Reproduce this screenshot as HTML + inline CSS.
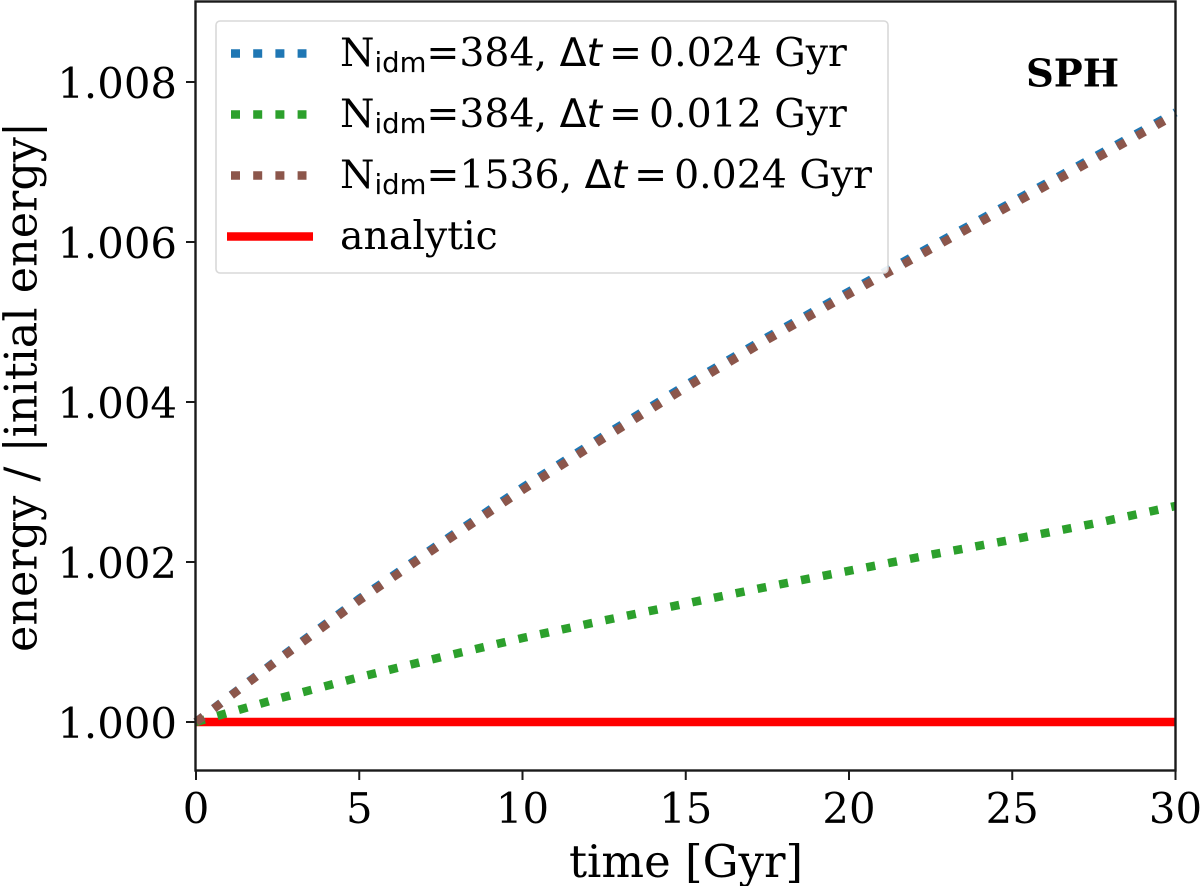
<!DOCTYPE html>
<html>
<head>
<meta charset="utf-8">
<title>Energy conservation chart</title>
<style>
html,body{margin:0;padding:0;background:#fff}
svg{display:block;filter:blur(0.35px)}
text{font-family:"DejaVu Serif","Liberation Serif",serif;fill:#000}
.sub{font-family:"DejaVu Sans","Liberation Sans",sans-serif}
.ital{font-family:"DejaVu Sans","Liberation Sans",sans-serif;font-style:italic}
.sym{font-family:"DejaVu Sans","Liberation Sans",sans-serif}
</style>
</head>
<body>
<svg id="chart" xmlns="http://www.w3.org/2000/svg" width="1200" height="886" viewBox="0 0 1200 886">
  <rect x="196" y="1" width="980" height="770" fill="#fff"/>
  <g id="marks"></g>
  <rect x="195.5" y="1.5" width="980" height="769" fill="none" stroke="#1a1a1a" stroke-width="2.4"/>
  <g id="ticks"></g>
  <text x="686" y="877" font-size="45" text-anchor="middle">time [Gyr]</text>
  <text transform="translate(36.5,387) rotate(-90)" font-size="44.5" text-anchor="middle">energy / |initial energy|</text>
  <text x="1026" y="86.5" font-size="38.5" font-weight="bold">SPH</text>
  <g>
    <rect x="216" y="21" width="672" height="252" rx="4" fill="#fff" fill-opacity="0.9" stroke="#d9d9d9" stroke-width="1.6"/>
    <line x1="231" x2="306.5" y1="53.5" y2="53.5" stroke="#1f77b4" stroke-width="8.5" stroke-dasharray="9 13.2"/>
    <line x1="231" x2="306.5" y1="114.5" y2="114.5" stroke="#2ca02c" stroke-width="8.5" stroke-dasharray="9 13.2"/>
    <line x1="231" x2="306.5" y1="175.5" y2="175.5" stroke="#8c564b" stroke-width="8.5" stroke-dasharray="9 13.2"/>
    <line x1="227" x2="313" y1="236.5" y2="236.5" stroke="#ff0000" stroke-width="8.5"/>
    <text x="340" y="66" font-size="39.4">N<tspan class="sub" font-size="27.5" dy="6">idm</tspan><tspan dy="-6">=384, </tspan><tspan class="sym">Δ</tspan><tspan class="ital">t</tspan><tspan dx="7">=</tspan><tspan dx="7">0.024 Gyr</tspan></text>
    <text x="340" y="127" font-size="39.4">N<tspan class="sub" font-size="27.5" dy="6">idm</tspan><tspan dy="-6">=384, </tspan><tspan class="sym">Δ</tspan><tspan class="ital">t</tspan><tspan dx="7">=</tspan><tspan dx="7">0.012 Gyr</tspan></text>
    <text x="340" y="188" font-size="39.4">N<tspan class="sub" font-size="27.5" dy="6">idm</tspan><tspan dy="-6">=1536, </tspan><tspan class="sym">Δ</tspan><tspan class="ital">t</tspan><tspan dx="7">=</tspan><tspan dx="7">0.024 Gyr</tspan></text>
    <text x="340" y="249" font-size="39.4">analytic</text>
  </g>
</svg>
<script>
var times = [0, 2.5, 5, 7.5, 10, 12.5, 15, 17.5, 20, 22.5, 25, 27.5, 30];
var blueValues = [1.0000, 1.00078, 1.00154, 1.00224, 1.00293, 1.00358, 1.00421, 1.00481, 1.00538, 1.00594, 1.0065, 1.00706, 1.00762];
var greenValues = [1.0000, 1.00029, 1.00056, 1.00081, 1.00105, 1.00127, 1.00148, 1.00169, 1.00189, 1.00209, 1.00228, 1.00248, 1.0027];
var brownValues = [1.0000, 1.00077, 1.00152, 1.00222, 1.0029, 1.00355, 1.00418, 1.00478, 1.00535, 1.00591, 1.00647, 1.00703, 1.00759];
var analyticValues = [1, 1, 1, 1, 1, 1, 1, 1, 1, 1, 1, 1, 1];
var xTicks = [0, 5, 10, 15, 20, 25, 30];
var yTicks = [1.000, 1.002, 1.004, 1.006, 1.008];
var yTickLabels = ["1.000", "1.002", "1.004", "1.006", "1.008"];

function xScale(t) { return 196 + (t - 0) * (1175.5 - 196) / 30; }
function yScale(v) { return 722 - (v - 1) * 640 / 0.008; }
var NS = 'http://www.w3.org/2000/svg';
var marks = document.getElementById('marks');
var tickLayer = document.getElementById('ticks');

function pathFor(values) {
  var d = '';
  for (var i = 0; i < times.length; i++) {
    d += (i ? 'L' : 'M') + xScale(times[i]).toFixed(2) + ' ' + yScale(values[i]).toFixed(2);
  }
  return d;
}
function drawSeries(values, color, dash, name) {
  var p = document.createElementNS(NS, 'path');
  p.setAttribute('d', pathFor(values));
  p.setAttribute('fill', 'none');
  p.setAttribute('stroke', color);
  p.setAttribute('stroke-width', '8.5');
  p.setAttribute('stroke-linejoin', 'round');
  if (dash) p.setAttribute('stroke-dasharray', dash);
  
  
  marks.appendChild(p);
}
drawSeries(analyticValues, '#ff0000', null, 'series-analytic');
drawSeries(blueValues, '#1f77b4', '9 13.2', 'series-nidm384-dt0024');
drawSeries(greenValues, '#2ca02c', '9 13.2', 'series-nidm384-dt0012');
drawSeries(brownValues, '#8c564b', '9 13.2', 'series-nidm1536-dt0024');

xTicks.forEach(function (t) {
  var x = xScale(t);
  var tick = document.createElementNS(NS, 'line');
  tick.setAttribute('x1', x); tick.setAttribute('x2', x);
  tick.setAttribute('y1', 770); tick.setAttribute('y2', 780);
  tick.setAttribute('stroke', '#1a1a1a'); tick.setAttribute('stroke-width', '2');
  
  
  tickLayer.appendChild(tick);
  var label = document.createElementNS(NS, 'text');
  label.setAttribute('x', x); label.setAttribute('y', 823);
  label.setAttribute('font-size', '41.8'); label.setAttribute('text-anchor', 'middle');
  label.textContent = String(t);
  
  
  tickLayer.appendChild(label);
});
yTicks.forEach(function (v, i) {
  var y = yScale(v);
  var tick = document.createElementNS(NS, 'line');
  tick.setAttribute('x1', 186); tick.setAttribute('x2', 196);
  tick.setAttribute('y1', y); tick.setAttribute('y2', y);
  tick.setAttribute('stroke', '#1a1a1a'); tick.setAttribute('stroke-width', '2');
  
  
  tickLayer.appendChild(tick);
  var label = document.createElementNS(NS, 'text');
  label.setAttribute('x', 177); label.setAttribute('y', y + 16);
  label.setAttribute('font-size', '41.8'); label.setAttribute('text-anchor', 'end');
  label.textContent = yTickLabels[i];
  
  
  tickLayer.appendChild(label);
});
</script>
</body>
</html>
